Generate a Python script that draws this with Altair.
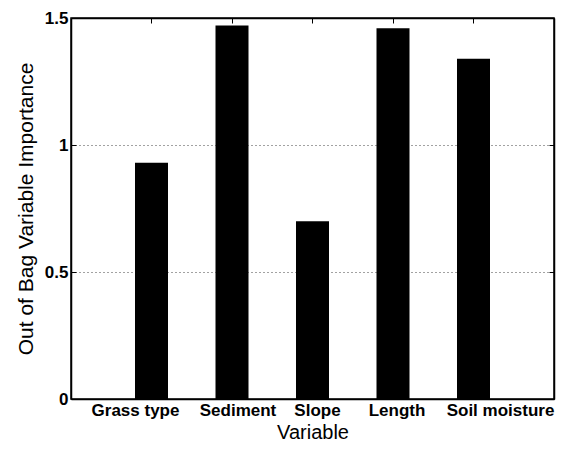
import altair as alt
import pandas as pd

variables = ["Grass type", "Sediment", "Slope", "Length", "Soil moisture"]
importance = [0.93, 1.47, 0.70, 1.46, 1.34]
y_ticks = [0, 0.5, 1, 1.5]

# horizontal nudges of the category labels (px), as in the original figure
label_nudge = [-16, 6, 5, 4, 27]

df = pd.DataFrame({"Variable": variables, "Importance": importance})

FONT = "Liberation Sans"

conds = [{"test": f"datum.value === '{v}'", "value": s} for v, s in zip(variables, label_nudge)]

x_scale = alt.Scale(paddingInner=0.59, paddingOuter=0.795)
y_scale = alt.Scale(domain=[0, 1.5], nice=False, zero=True)

inward = {"expr": "-5"}

bars = alt.Chart(df).mark_bar(color="black").encode(
    x=alt.X(
        "Variable:N", sort=variables, scale=x_scale,
        axis=alt.Axis(
            title="Variable", labelAngle=0, labelFont=FONT, labelFontWeight="bold",
            labelFontSize=17, labelColor="black",
            labelOffset={"condition": conds, "value": 0},
            labelPadding=8, tickSize=inward, tickColor="black", tickWidth=1,
            domainColor="black", domainWidth=1.5,
            titleFont=FONT, titleFontSize=20, titleFontWeight="normal",
            titleColor="black", titlePadding=4, grid=False,
        ),
    ),
    y=alt.Y(
        "Importance:Q", scale=y_scale,
        axis=alt.Axis(
            title="Out of Bag Variable Importance", values=y_ticks, format="~g",
            labelFont=FONT, labelFontWeight="bold", labelFontSize=17, labelColor="black",
            labelPadding=8, tickSize=inward, tickColor="black", tickWidth=1,
            domainColor="black", domainWidth=1.5,
            grid=True, gridColor="#444444", gridDash=[1, 3], gridWidth=1,
            titleFont=FONT, titleFontSize=21, titleFontWeight="normal",
            titleColor="black", titlePadding=8,
        ),
    ),
)

frame = alt.Chart(df).mark_bar(opacity=0).encode(
    x=alt.X(
        "Variable:N", sort=variables, scale=x_scale,
        axis=alt.Axis(orient="top", title=None, labels=False, tickSize=inward,
                      tickColor="black", domainColor="black", domainWidth=1.5, grid=False),
    ),
    y=alt.Y(
        "Importance:Q", scale=y_scale,
        axis=alt.Axis(orient="right", title=None, labels=False, values=y_ticks,
                      tickSize=inward, tickColor="black", domainColor="black",
                      domainWidth=1.5, grid=False),
    ),
)

chart = (
    alt.layer(bars, frame)
    .resolve_axis(x="independent", y="independent")
    .properties(
        width=483, height=381,
        padding={"left": 71, "top": 18, "right": 9, "bottom": 50},
        autosize=alt.AutoSizeParams(type="none"),
        background="white",
    )
    .configure_view(stroke="black", strokeWidth=1.5)
)

chart.save("out.html", embed_options={"renderer": "svg", "actions": False})
